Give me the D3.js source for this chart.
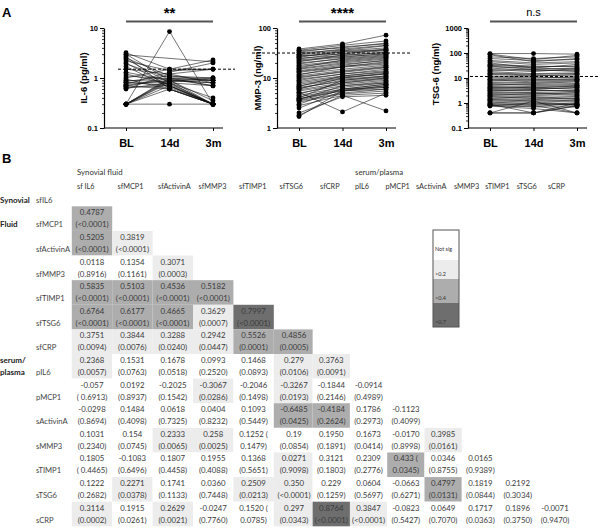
<!DOCTYPE html>
<html><head><meta charset="utf-8">
<script src="https://cdn.jsdelivr.net/npm/d3@7"></script>
<style>body{margin:0;background:#fff}svg{display:block}</style>
</head><body><svg id="c" width="600" height="528"></svg>
<script>
// ---------------- DATA: panel A ----------------
const timepoints = ["BL", "14d", "3m"];

const il6BL = [3.2,3.0,2.9,2.7,2.5,2.4,2.2,2.0,1.9,1.7,1.5,1.3,1.2,1.1,1.0,0.95,0.9,0.85,0.82,0.8,0.75,0.72,0.7,0.68,0.65,0.62,0.6,0.3,0.3,0.3,0.3,0.3,0.3,0.3,0.3,0.3];
const il614 = [1.5,0.9,null,0.6,1.1,0.8,1.4,0.7,1.0,0.65,1.2,0.9,0.75,0.95,1.5,0.6,0.85,1.1,0.7,0.8,1.3,0.9,0.6,1.0,0.7,0.8,1.2,8.5,0.3,0.9,0.8,1.0,0.7,0.85,0.6,0.95];
const il63m = [2.3,0.3,2.1,0.3,0.9,0.3,1.5,0.3,1.0,0.3,0.8,0.35,0.3,0.7,1.5,0.3,0.9,1.0,0.3,0.4,2.0,0.8,0.3,0.9,0.3,0.7,1.5,0.3,0.3,0.8,0.3,0.7,0.3,1.0,0.3,0.9];
const il6Cut = 1.5;
const il6Ticks = [0.1, 1, 10];

const mmpBL = [38,36,35,33,32,30,29,28,27,26,25,24,23,22,21,20,19,18,17,16,15.5,15,14,13.5,13,12,11.5,11,10.5,10,9.5,9,8.5,8,7.5,7,6.8,6.5,6.2,6,5.8,5.5,5.2,5,4.8,4.5,4.2,4,3.9,3.8,3.7,3.6,3.5,3.3,3.0,2.8,2.5,2.0,1.8,1.7];
const mmp14 = [48,45,40,42,36,38,35,30,33,34,28,31,27,26,29,24,25,22,21,23,20,19,18,17,16.5,15,17,14,13,13.5,12,12,11,10.5,10,9.5,11,8.5,9,10,8,7.5,2.1,7,8,6.5,6,9,5.5,6,7,5.7,5,4.8,6,4.5,5.5,4.2,4.5,5.5];
const mmp3m = [72,55,50,48,44,45,40,38,36,37,33,35,30,31,32,28,29,26,25,27,24,22,23,20,19,18,21,17,16,16.5,15,14,13.5,12,12.5,11,13,10,10.5,12,9.5,9,5,8.5,10,8,7.5,11,7,6.5,8,7,6,5.5,7.5,5,6.5,4.5,2.2,6];
const mmpCut = 31.6;
const mmpTicks = [1, 10, 100];

const tsgBL = [95,90,85,70,60,50,45,40,35,32,30,28,25,22,20,18,16,15,14,12,11,10,9,8.5,8,7,6.5,6,5.5,5,4.6,4.2,4,3.8,3.5,3.2,3,2.8,2.6,2.4,2.2,2,1.9,1.8,1.6,1.5,1.4,1.3,1.2,1.1,1.0,0.95,0.9,0.85,0.8,0.78,0.75,0.4,0.4,0.4];
const tsg14 = [95,55,45,60,50,40,35,25,30,28,22,25,20,18,22,15,14,13,12,11,10,9,8,7,8.5,6.5,6,5,5.5,4.5,4,3.8,4.2,3.5,3.2,3,3.4,2.6,2.5,2.2,2,2.4,1.8,1.5,1.7,1.4,1.2,1.3,1.1,0.9,1.0,0.8,0.4,0.9,0.7,0.75,0.6,0.4,1.2,0.4];
const tsg3m = [90,80,60,70,55,45,40,35,28,30,25,22,20,24,18,16,15,12,14,10,11,9,8,7.5,9,6,7,5.5,5,4.5,4.8,4,3.5,4.2,3,3.2,2.8,2.5,2.2,2.6,1.8,2,1.5,1.6,1.4,1.2,1.1,1.3,0.9,1.0,0.8,0.4,0.75,0.85,0.7,0.9,0.4,1.0,0.4,0.8];
const tsgCut = 11.5;
const tsgTicks = [0.1, 1, 10, 100, 1000];

// ---------------- DATA: panel B ----------------
const rowLabels = ["sfIL6","sfMCP1","sfActivinA","sfMMP3","sfTIMP1","sfTSG6","sfCRP","pIL6","pMCP1","sActivinA","sMMP3","sTIMP1","sTSG6","sCRP"];
const colLabels = ["sf IL6","sfMCP1","sfActivinA","sfMMP3","sfTIMP1","sfTSG6","sfCRP","pIL6","pMCP1","sActivinA","sMMP3","sTIMP1","sTSG6","sCRP"];

const rVals = [
  [],
  ["0.4787"],
  ["0.5205","0.3819"],
  ["0.0118","0.1354","0.3071"],
  ["0.5835","0.5103","0.4536","0.5182"],
  ["0.6764","0.6177","0.4665","0.3629","0.7997"],
  ["0.3751","0.3844","0.3288","0.2942","0.5526","0.4856"],
  ["0.2368","0.1531","0.1678","0.0993","0.1468","0.279","0.3763"],
  ["-0.057","0.0192","-0.2025","-0.3067","-0.2046","-0.3267","-0.1844","-0.0914"],
  ["-0.0298","0.1484","0.0618","0.0404","0.1093","-0.6485","-0.4184","0.1786","-0.1123"],
  ["0.1031","0.154","0.2333","0.258","0.1252 (","0.19","0.1950","0.1673","-0.0170","0.3985"],
  ["0.1805","-0.1083","0.1807","0.1955","0.1368","0.0271","0.3121","0.2309","0.433 (","0.0346","0.0165"],
  ["0.1222","0.2271","0.1741","0.0360","0.2509","0.350","0.229","0.0604","-0.0663","0.4797","0.1819","0.2192"],
  ["0.3114","0.1915","0.2629","-0.0247","0.1520 (","0.297","0.8764","0.3847","-0.0823","0.0649","0.1717","0.1896","-0.0071"]
];
const pVals = [
  [],
  ["(<0.0001)"],
  ["(<0.0001)","(<0.0001)"],
  ["(0.8916)","(0.1161)","(0.0003)"],
  ["(<0.0001)","(<0.0001)","(<0.0001)","(<0.0001)"],
  ["(<0.0001)","(<0.0001)","(<0.0001)","(0.0007)","(<0.0001)"],
  ["(0.0094)","(0.0076)","(0.0240)","(0.0447)","(0.0001)","(0.0005)"],
  ["(0.0057)","(0.0763)","(0.0518)","(0.2520)","(0.0893)","(0.0106)","(0.0091)"],
  ["( 0.6913)","(0.8937)","(0.1542)","(0.0286)","(0.1498)","(0.0193)","(0.2146)","(0.4989)"],
  ["(0.8694)","(0.4098)","(0.7325)","(0.8232)","(0.5449)","(0.0425)","(0.2624)","(0.2973)","(0.4099)"],
  ["(0.2340)","(0.0745)","(0.0065)","(0.0025)","0.1479)","(0.0854)","(0.1891)","(0.0414)","(0.8998)","(0.0161)"],
  ["( 0.4465)","(0.6496)","(0.4458)","(0.4088)","(0.5651)","(0.9098)","(0.1803)","(0.2776)","0.0345)","(0.8755)","(0.9389)"],
  ["(0.2682)","(0.0378)","(0.1133)","(0.7448)","(0.0213)","(<0.0001)","(0.1259)","(0.5697)","(0.6271)","(0.0131)","(0.0844)","(0.3034)"],
  ["(0.0002)","(0.0261)","(0.0021)","(0.7760)","0.0785)","(0.0343)","(<0.0001)","(<0.0001)","(0.5427)","(0.7070)","(0.0363)","(0.3750)","(0.9470)"]
];
const shade = [
  [],
  [2],
  [2,1],
  [0,0,1],
  [2,2,2,2],
  [2,2,2,1,3],
  [1,1,1,1,2,2],
  [1,0,0,0,0,1,1],
  [0,0,0,1,0,1,0,0],
  [0,0,0,0,0,2,2,0,0],
  [0,0,1,1,0,0,0,0,0,1],
  [0,0,0,0,0,1,0,0,2,0,0],
  [0,1,0,0,1,1,0,0,0,2,0,0],
  [1,0,1,0,0,1,3,1,0,0,0,0,0]
];
const legendLabels = ["Not sig", ">0.2", ">0.4", ">0.7"];

// ---------------- DRAW ----------------
const svg = d3.select("#c");
const SANS = "'Liberation Sans', Arial, sans-serif";
const NARROW = "'Liberation Sans Narrow','Liberation Sans', Arial, sans-serif";
const CAL = "Lato, 'Open Sans', sans-serif";

svg.append("text").attr("x", 2).attr("y", 17).text("A")
  .attr("font-family", SANS).attr("font-weight", "bold").attr("font-size", 13);
svg.append("text").attr("x", 2).attr("y", 163).text("B")
  .attr("font-family", SANS).attr("font-weight", "bold").attr("font-size", 13);

const charts = [
  {x0:104, series:[il6BL, il614, il63m], domain:[0.1,10], ticks:il6Ticks, cut:il6Cut,
   label:"IL-6  (pg/ml)", lx:84, ly:78, sig:"**", sigBold:true, dash:[118,235]},
  {x0:277, series:[mmpBL, mmp14, mmp3m], domain:[1,100], ticks:mmpTicks, cut:mmpCut,
   label:"MMP-3 (ng/ml)", lx:258, ly:78, sig:"****", sigBold:true, dash:[252,410]},
  {x0:468, series:[tsgBL, tsg14, tsg3m], domain:[0.1,1000], ticks:tsgTicks, cut:tsgCut,
   label:"TSG-6 (ng/ml)", lx:436, ly:74, sig:"n.s", sigBold:false, dash:[470,600]}
];

charts.forEach(c => {
  const g = svg.append("g");
  const y = d3.scaleLog().domain(c.domain).range([128, 28]);
  const x = d3.scalePoint().domain(timepoints).range([c.x0 + 22, c.x0 + 109]);

  const minors = [];
  const e0 = Math.round(Math.log10(c.domain[0])), e1 = Math.round(Math.log10(c.domain[1]));
  for (let e = e0; e < e1; e++) for (let k = 2; k <= 9; k++) minors.push(k * Math.pow(10, e));
  g.append("g").attr("transform", `translate(${c.x0},0)`)
    .call(d3.axisLeft(y).tickValues(minors).tickSize(2).tickFormat("").tickSizeOuter(0))
    .call(s => s.select(".domain").remove())
    .call(s => s.selectAll("line").attr("stroke-width", 0.8));

  const ya = g.append("g").attr("transform", `translate(${c.x0},0)`)
    .call(d3.axisLeft(y).tickValues(c.ticks).tickFormat(d3.format("~g")).tickSize(4).tickPadding(2).tickSizeOuter(0));
  ya.selectAll("text").attr("font-family", NARROW).attr("font-weight", "bold").attr("font-size", 7.5);
  ya.select(".domain").attr("stroke-width", 1.2);

  const xa = g.append("g").attr("transform", "translate(0,128)")
    .call(d3.axisBottom(x).tickSize(3).tickPadding(8).tickSizeOuter(0));
  xa.select(".domain").attr("d", `M${c.x0},0H${c.x0 + 119}`).attr("stroke-width", 1.2);
  xa.selectAll("text").attr("font-family", SANS).attr("font-weight", "bold").attr("font-size", 11);

  g.append("text").attr("transform", `translate(${c.lx},${c.ly}) rotate(-90)`)
    .attr("text-anchor", "middle").attr("dy", "0.35em").text(c.label)
    .attr("font-family", SANS).attr("font-weight", "bold").attr("font-size", 9.5);

  const n = c.series[0].length;
  const line = d3.line().x(d => x(d.t)).y(d => y(d.v));
  const subjects = d3.range(n).map(i => timepoints.map((t, k) => ({t, v: c.series[k][i]})).filter(d => d.v != null));
  g.append("g").selectAll("path").data(subjects).join("path")
    .attr("d", line).attr("fill", "none").attr("stroke", "#111").attr("stroke-width", 0.65).attr("stroke-opacity", 0.9);
  g.append("g").selectAll("circle").data(subjects.flat()).join("circle")
    .attr("cx", d => x(d.t)).attr("cy", d => y(d.v)).attr("r", 2.4).attr("fill", "#000");

  g.append("line").attr("x1", c.dash[0]).attr("x2", c.dash[1])
    .attr("y1", y(c.cut)).attr("y2", y(c.cut))
    .attr("stroke", "#000").attr("stroke-width", 1).attr("stroke-dasharray", "3,2");

  g.append("line").attr("x1", x("BL")).attr("x2", x("3m")).attr("y1", 21.5).attr("y2", 21.5)
    .attr("stroke", "#555").attr("stroke-width", 2);
  g.append("text").attr("x", x("14d")).attr("y", c.sigBold ? 18 : 16).attr("text-anchor", "middle")
    .text(c.sig).attr("font-family", SANS).attr("font-weight", c.sigBold ? "bold" : "normal")
    .attr("font-size", c.sigBold ? 15 : 11);
});

// ---------------- Panel B ----------------
const palette = ["#ffffff", "#ececec", "#adadad", "#6e6e6e"];
const colX = d3.scaleLinear().domain([0, 5, 12]).range([92, 294, 555]);
const rowY = d3.scaleLinear().domain([0, 13]).range([200, 520]);
const hdrX = d3.scaleLinear().domain([0, 6, 7, 9, 10, 13]).range([77, 320, 355, 416, 454, 548]);
const rowH = rowY(1) - rowY(0);
const TXT = "#3a3a3a";
const B = svg.append("g").attr("font-family", CAL);

B.append("text").attr("x", 77).attr("y", 172).attr("dy", "0.35em").text("Synovial fluid")
  .attr("font-size", 7.8).attr("fill", "#333");
B.append("text").attr("x", 355).attr("y", 172).attr("dy", "0.35em").text("serum/plasma")
  .attr("font-size", 7.8).attr("fill", "#333");

B.append("g").selectAll("text").data(colLabels).join("text")
  .attr("x", (d, i) => hdrX(i)).attr("y", 186).attr("dy", "0.35em").text(d => d)
  .attr("font-size", 7.3).attr("fill", "#333");

B.append("g").selectAll("text").data(rowLabels).join("text")
  .attr("x", 36).attr("y", (d, i) => rowY(i)).attr("dy", "0.35em").text(d => d)
  .attr("font-size", 7.6).attr("fill", "#444");

[["Synovial", 0], ["Fluid", 1], ["plasma", 7]].forEach(([t, i]) => {
  B.append("text").attr("x", 0).attr("y", rowY(i)).attr("dy", "0.35em").text(t)
    .attr("font-size", 8).attr("font-weight", "bold").attr("fill", "#222");
});
B.append("text").attr("x", 0).attr("y", rowY(7) - 12).attr("dy", "0.35em").text("serum/")
  .attr("font-size", 8).attr("font-weight", "bold").attr("fill", "#222");

const cells = [];
rVals.forEach((row, i) => row.forEach((r, j) => cells.push({i, j, r, p: pVals[i][j], s: shade[i][j]})));

B.append("g").selectAll("rect").data(cells).join("rect")
  .attr("x", d => colX(d.j - 0.5)).attr("width", d => colX(d.j + 0.5) - colX(d.j - 0.5))
  .attr("y", d => rowY(d.i) - 18.3).attr("height", rowH)
  .attr("fill", d => palette[d.s]);

B.append("g").selectAll("text.r").data(cells).join("text")
  .attr("x", d => colX(d.j)).attr("y", d => rowY(d.i) - 12).attr("dy", "0.35em")
  .attr("text-anchor", "middle").text(d => d.r).attr("font-size", 7.8).attr("fill", TXT);
B.append("g").selectAll("text.p").data(cells).join("text")
  .attr("x", d => colX(d.j)).attr("y", d => rowY(d.i)).attr("dy", "0.35em")
  .attr("text-anchor", "middle").text(d => d.p).attr("font-size", 7.8).attr("fill", TXT);

const legY = d3.scaleOrdinal().domain(legendLabels).range([[230, 260], [260, 279], [279, 303], [303, 327]]);
const LG = B.append("g");
LG.selectAll("rect").data(legendLabels).join("rect")
  .attr("x", 433).attr("width", 26)
  .attr("y", d => legY(d)[0]).attr("height", d => legY(d)[1] - legY(d)[0])
  .attr("fill", (d, i) => palette[i]);
LG.append("rect").attr("x", 433).attr("y", 230).attr("width", 26).attr("height", 97)
  .attr("fill", "none").attr("stroke", "#555").attr("stroke-width", 1);
LG.selectAll("text").data(legendLabels).join("text")
  .attr("x", 435).attr("y", (d, i) => i === 0 ? 249 : legY(d)[1] - 5).attr("dy", "0.35em")
  .text(d => d).attr("font-size", 5.5).attr("fill", "#333");
</script></body></html>
